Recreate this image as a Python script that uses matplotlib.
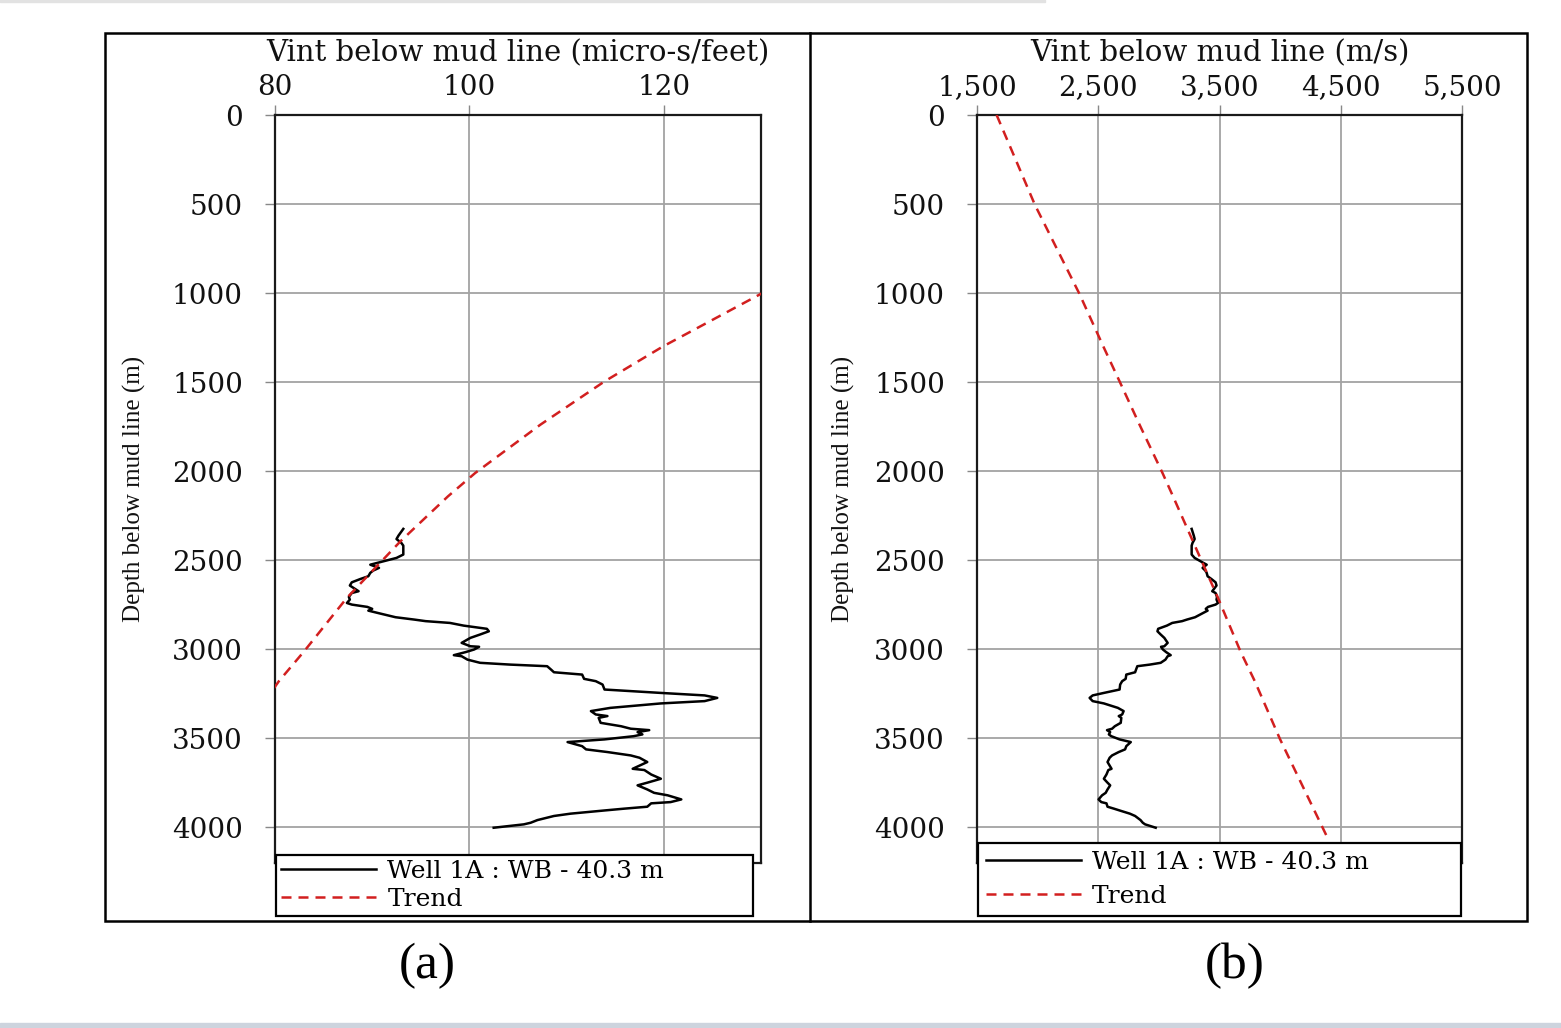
import numpy as np
import matplotlib
matplotlib.use('Agg')
from matplotlib import pyplot as plt
from matplotlib.patches import Rectangle
from matplotlib.lines import Line2D
from matplotlib.ticker import FuncFormatter

# sonic log of well 1A below the mud line (slowness in micro-s/ft)
depth_well = [2324, 2362, 2381, 2403, 2418, 2468, 2487, 2511, 2525, 2543,
              2558, 2571, 2590, 2605, 2624, 2642, 2674, 2684, 2706, 2721,
              2740, 2749, 2762, 2773, 2783, 2799, 2820, 2833, 2842, 2852,
              2867, 2885, 2899, 2917, 2936, 2964, 2983, 2986, 3001, 3016,
              3033, 3039, 3058, 3076, 3086, 3095, 3114, 3129, 3142, 3166,
              3179, 3198, 3226, 3245, 3259, 3273, 3291, 3304, 3329, 3347,
              3366, 3375, 3385, 3413, 3432, 3446, 3454, 3465, 3478, 3488,
              3506, 3521, 3544, 3562, 3577, 3596, 3609, 3633, 3671, 3678,
              3703, 3727, 3749, 3764, 3787, 3806, 3820, 3843, 3858, 3865,
              3884, 3895, 3905, 3923, 3936, 3959, 3974, 3983, 4002]
dt_well = [93.2, 92.7, 92.5, 93.0, 93.2, 93.2, 92.5, 90.8, 89.8, 90.7,
           90.1, 89.8, 89.6, 88.8, 87.9, 87.7, 88.6, 87.9, 87.6, 87.7,
           87.4, 87.9, 89.5, 90.0, 89.6, 90.8, 92.4, 94.3, 95.5, 98.0,
           99.4, 101.8, 102.0, 101.1, 100.1, 99.2, 100.1, 101.0, 100.5, 99.6,
           98.4, 99.2, 99.8, 101.1, 104.2, 108.0, 108.4, 108.7, 111.6, 111.8,
           113.0, 113.7, 113.9, 119.7, 124.2, 125.5, 124.2, 119.7, 114.5, 112.5,
           113.0, 114.2, 113.3, 113.5, 115.6, 116.6, 118.5, 117.3, 117.8, 116.9,
           113.9, 110.1, 111.6, 112.0, 114.2, 116.6, 117.5, 118.3, 116.8, 118.0,
           118.7, 119.7, 118.3, 117.3, 118.3, 119.0, 120.4, 121.8, 120.7, 118.7,
           118.3, 115.9, 113.9, 110.4, 108.7, 107.0, 106.3, 105.6, 102.5]

# compaction trend
depth_trend = [0, 505, 1004, 1300, 1496, 1739, 2010, 2141, 2394, 2711, 3011, 3179, 3506, 4060]
dt_trend = [183.4, 154.1, 130.0, 119.9, 113.9, 107.3, 100.6, 97.8, 92.9, 87.4, 83.0, 80.4, 76.2, 69.4]

depth_ticks = list(range(0, 4001, 500))
dt_ticks = [80, 100, 120]
v_ticks = [1500, 2500, 3500, 4500, 5500]

well_label = 'Well 1A : WB - 40.3 m'
trend_label = 'Trend'

# micro-s/ft -> m/s
vint_well = 304800.0 / np.array(dt_well)
vint_trend = 304800.0 / np.array(dt_trend)

plt.rcParams['font.family'] = ['DejaVu Serif']
W, H = 1561, 1028
fig = plt.figure(figsize=(W / 100, H / 100), dpi=100)
fig.patch.set_facecolor('white')


def fx(px):
    return px / W


def fy(py):
    return 1 - py / H


red = '#d21f1f'
grid_c = '#a3a3a3'

ax1 = fig.add_axes([fx(275), fy(863), fx(486), (863 - 115) / H])
ax2 = fig.add_axes([fx(977), fy(863), fx(485), (863 - 115) / H])

ax1.plot(dt_well, depth_well, color='black', lw=1.8, label=well_label, zorder=3)
ax1.plot(dt_trend, depth_trend, color=red, lw=1.8, dashes=(4, 2.8), label=trend_label, zorder=3)
ax2.plot(vint_well, depth_well, color='black', lw=1.8, label=well_label, zorder=3)
ax2.plot(vint_trend, depth_trend, color=red, lw=1.8, dashes=(4, 2.8), label=trend_label, zorder=3)

ax1.set_xlim(80, 130)
ax1.set_xticks(dt_ticks)
ax2.set_xlim(1500, 5500)
ax2.set_xticks(v_ticks)
ax2.xaxis.set_major_formatter(FuncFormatter(lambda v, p: f'{v:,.0f}'))

for ax, xlab, ylx in [(ax1, 'Vint below mud line (micro-s/feet)', -0.265),
                      (ax2, 'Vint below mud line (m/s)', -0.252)]:
    ax.set_ylim(4200, 0)
    ax.set_yticks(depth_ticks)
    ax.xaxis.tick_top()
    ax.xaxis.set_label_position('top')
    ax.set_xlabel(xlab, fontsize=21, labelpad=9, color='#111111')
    ax.set_ylabel('Depth below mud line (m)', family='Liberation Serif', fontsize=18, color='#111111')
    ax.yaxis.set_label_coords(ylx, 0.5)
    ax.grid(True, color=grid_c, lw=1.3)
    ax.set_axisbelow(True)
    ax.tick_params(axis='x', direction='out', length=7, width=1, color='#888888',
                   labelsize=20, pad=3, labelcolor='#111111')
    ax.tick_params(axis='y', direction='out', length=7, width=1, color='#888888',
                   labelsize=20, pad=16, labelcolor='#111111')
    for s in ax.spines.values():
        s.set_linewidth(1.6)
        s.set_color('#1a1a1a')

leg1 = ax1.legend(loc='upper left', bbox_to_anchor=(fx(276), fy(916), fx(477), (916 - 855) / H),
                  bbox_transform=fig.transFigure, mode='expand', borderaxespad=0,
                  fontsize=18, handlelength=3.8, handletextpad=0.45, labelspacing=0.2,
                  borderpad=0.2, fancybox=False, framealpha=1, edgecolor='black')
leg2 = ax2.legend(loc='upper left', bbox_to_anchor=(fx(978), fy(916), fx(483), (916 - 843) / H),
                  bbox_transform=fig.transFigure, mode='expand', borderaxespad=0,
                  fontsize=18, handlelength=3.8, handletextpad=0.45, labelspacing=0.44,
                  borderpad=0.32, fancybox=False, framealpha=1, edgecolor='black')
for leg in (leg1, leg2):
    leg.get_frame().set_linewidth(1.6)
    leg.set_zorder(10)

# outer frame with the divider between the two panels
fig.patches.append(Rectangle((fx(105), fy(921)), fx(1527 - 105), (921 - 33) / H,
                             fill=False, lw=1.8, edgecolor='black', transform=fig.transFigure))
fig.lines.append(Line2D([fx(810), fx(810)], [fy(921), fy(33)], lw=1.8, color='black',
                        transform=fig.transFigure))
fig.patches.append(Rectangle((0, 0), 1, 5 / H, color='#cdd4de', transform=fig.transFigure))
fig.patches.append(Rectangle((0, fy(2)), fx(1045), 2 / H, color='#e2e2e2', transform=fig.transFigure))

fig.text(fx(427), fy(966), '(a)', family='Liberation Serif', fontsize=37, ha='center', va='center')
fig.text(fx(1235), fy(966), '(b)', family='Liberation Serif', fontsize=37, ha='center', va='center')

fig.savefig('out.png', dpi=100)
